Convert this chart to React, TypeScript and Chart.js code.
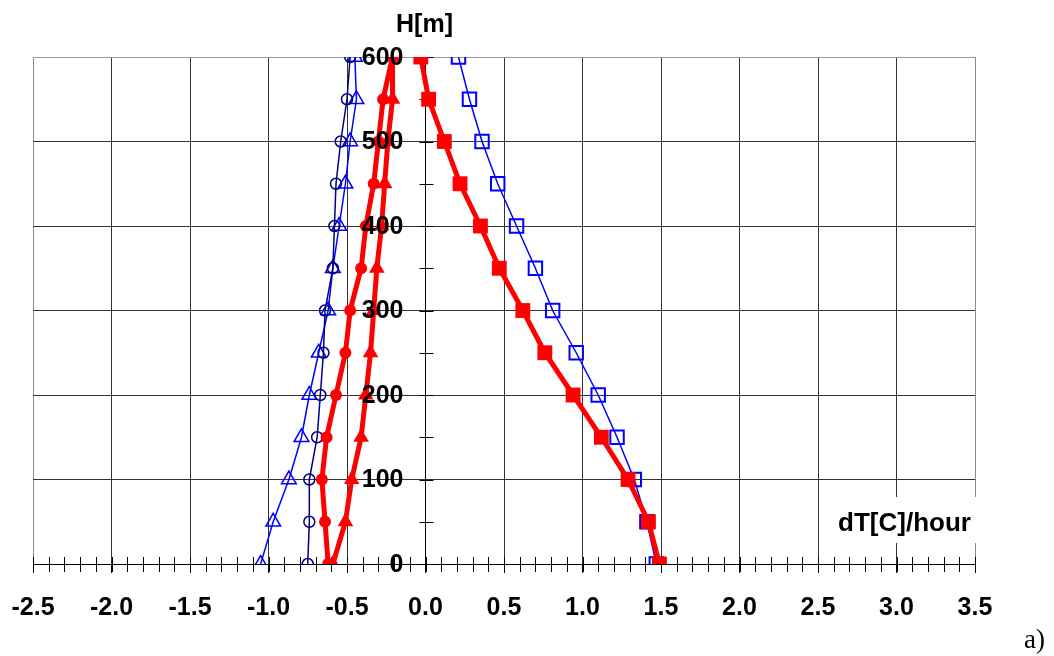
import React, { useEffect, useRef } from 'react';
import { Chart, registerables } from 'chart.js';

Chart.register(...registerables);

// Heights (m) of the profile points
const heights = [0, 50, 100, 150, 200, 250, 300, 350, 400, 450, 500, 550, 600];

// dT [C]/hour values for each series, listed bottom (0 m) to top (600 m)
const navyCircles = [-0.75, -0.74, -0.74, -0.69, -0.67, -0.65, -0.64, -0.59, -0.58, -0.57, -0.54, -0.5, -0.48];
const blueTriangles = [-1.05, -0.97, -0.87, -0.79, -0.74, -0.68, -0.62, -0.59, -0.55, -0.51, -0.48, -0.44, -0.45];
const redCircles = [-0.62, -0.64, -0.66, -0.63, -0.57, -0.51, -0.48, -0.41, -0.38, -0.33, -0.3, -0.27, -0.21];
const redTriangles = [-0.59, -0.51, -0.47, -0.41, -0.38, -0.35, -0.33, -0.31, -0.28, -0.26, -0.24, -0.21, -0.21];
const redSquares = [1.49, 1.42, 1.29, 1.12, 0.94, 0.76, 0.62, 0.47, 0.35, 0.22, 0.12, 0.02, -0.03];
const blueSquares = [1.47, 1.41, 1.33, 1.22, 1.1, 0.96, 0.81, 0.7, 0.58, 0.46, 0.36, 0.28, 0.21];

const xMin = -2.5;
const xMax = 3.5;
const yMin = 0;
const yMax = 600;

const yTitle = 'H[m]';
const xTitle = 'dT[C]/hour';
const panelLabel = 'a)';

const FONT = '"Liberation Sans", Arial, Helvetica, sans-serif';

const pts = (vals: number[]) => heights.map((h, i) => ({ x: vals[i], y: h }));

export default function App() {
  const ref = useRef<HTMLCanvasElement>(null);

  useEffect(() => {
    if (!ref.current) return;

    const decorations = {
      id: 'decorations',
      beforeDatasetsDraw(chart: any) {
        const { ctx, scales } = chart;
        const x = scales.x;
        const y = scales.y;
        const x0 = Math.round(x.getPixelForValue(0)) + 0.5;
        const y0 = Math.round(y.getPixelForValue(0)) + 0.5;
        ctx.save();
        ctx.strokeStyle = '#000';
        ctx.lineWidth = 1;
        ctx.beginPath();
        for (let i = Math.round(xMin * 10); i <= Math.round(xMax * 10); i++) {
          const px = Math.round(x.getPixelForValue(i / 10)) + 0.5;
          ctx.moveTo(px, y0 - 7.5);
          ctx.lineTo(px, y0 + 7.5);
        }
        for (let v = yMin; v <= yMax; v += 50) {
          const py = Math.round(y.getPixelForValue(v)) + 0.5;
          ctx.moveTo(x0 - 7, py);
          ctx.lineTo(x0 + 7, py);
        }
        ctx.stroke();
        ctx.restore();
      },
      afterDatasetsDraw(chart: any) {
        const { ctx, scales } = chart;
        const x = scales.x;
        const y = scales.y;
        const x0 = x.getPixelForValue(0);
        ctx.save();
        ctx.fillStyle = '#000';
        ctx.font = `bold 25px ${FONT}`;
        ctx.textAlign = 'right';
        ctx.textBaseline = 'middle';
        for (const t of y.ticks) {
          ctx.fillText(String(t.value), x0 - 22, y.getPixelForValue(t.value) + 1);
        }
        ctx.restore();
      },
      afterDraw(chart: any) {
        const { ctx, scales } = chart;
        const x = scales.x;
        const y = scales.y;
        ctx.save();
        ctx.fillStyle = '#000';
        ctx.font = `bold 25px ${FONT}`;
        ctx.textAlign = 'center';
        ctx.textBaseline = 'alphabetic';
        ctx.fillText(yTitle, x.getPixelForValue(0) - 1, y.getPixelForValue(yMax) - 25);
        // x-axis title with white background box
        const tx = x.getPixelForValue(3.0) + 8;
        const ty = y.getPixelForValue(0) - 33;
        ctx.fillStyle = '#fff';
        ctx.fillRect(x.getPixelForValue(2.5) + 8, ty - 34, 160, 46);
        ctx.fillStyle = '#000';
        ctx.font = `bold 26px ${FONT}`;
        ctx.fillText(xTitle, tx, ty);
        ctx.restore();
      },
    };

    const chart = new Chart(ref.current, {
      type: 'scatter',
      data: {
        datasets: [
          {
            label: 'red squares',
            data: pts(redSquares),
            showLine: true,
            borderColor: '#ff0000',
            backgroundColor: '#ff0000',
            borderWidth: 5,
            pointStyle: 'rect',
            pointRadius: 10.5,
            pointBorderWidth: 0,
            pointBackgroundColor: '#ff0000',
          },
          {
            label: 'red circles',
            data: pts(redCircles),
            showLine: true,
            borderColor: '#ff0000',
            backgroundColor: '#ff0000',
            borderWidth: 5,
            pointStyle: 'circle',
            pointRadius: 6,
            pointBorderWidth: 0,
            pointBackgroundColor: '#ff0000',
          },
          {
            label: 'red triangles',
            data: pts(redTriangles),
            showLine: true,
            borderColor: '#ff0000',
            backgroundColor: '#ff0000',
            borderWidth: 5,
            pointStyle: 'triangle',
            pointRadius: 9,
            pointBorderWidth: 0,
            pointBackgroundColor: '#ff0000',
          },
          {
            label: 'blue squares',
            data: pts(blueSquares),
            showLine: true,
            borderColor: '#0000ff',
            backgroundColor: 'rgba(0,0,0,0)',
            borderWidth: 1.5,
            pointStyle: 'rect',
            pointRadius: 9.5,
            pointBorderWidth: 2,
            pointBorderColor: '#0000ff',
            pointBackgroundColor: 'rgba(0,0,0,0)',
          },
          {
            label: 'navy circles',
            data: pts(navyCircles),
            showLine: true,
            borderColor: '#000080',
            backgroundColor: 'rgba(0,0,0,0)',
            borderWidth: 1.5,
            pointStyle: 'circle',
            pointRadius: 5.5,
            pointBorderWidth: 1.5,
            pointBorderColor: '#000080',
            pointBackgroundColor: 'rgba(0,0,0,0)',
          },
          {
            label: 'blue triangles',
            data: pts(blueTriangles),
            showLine: true,
            borderColor: '#0000ff',
            backgroundColor: 'rgba(0,0,0,0)',
            borderWidth: 1.5,
            pointStyle: 'triangle',
            pointRadius: 8.5,
            pointBorderWidth: 1.5,
            pointBorderColor: '#0000ff',
            pointBackgroundColor: 'rgba(0,0,0,0)',
          },
        ],
      },
      options: {
        animation: false,
        responsive: false,
        devicePixelRatio: 1,
        events: [],
        layout: { padding: { left: 33, top: 57, right: 79, bottom: 0 } },
        plugins: {
          legend: { display: false },
          tooltip: { enabled: false },
          title: { display: false },
        },
        scales: {
          x: {
            type: 'linear',
            position: 'bottom',
            min: xMin,
            max: xMax,
            afterFit: (s: any) => {
              s.height = 92;
              s.paddingLeft = 0;
              s.paddingRight = 0;
            },
            ticks: {
              stepSize: 0.5,
              autoSkip: false,
              maxRotation: 0,
              padding: 20,
              color: '#000',
              font: { family: FONT, size: 25, weight: 'bold' },
              callback: (v: any) => Number(v).toFixed(1),
            },
            grid: {
              color: (c: any) =>
                c.tick && (c.tick.value === xMin || c.tick.value === xMax) ? '#8a8a8a' : '#333333',
              lineWidth: 1,
              drawTicks: true,
              tickLength: 9,
              tickColor: '#000',
            },
            border: { display: true, color: '#000', width: 1 },
          },
          y: {
            type: 'linear',
            position: { x: 0 } as any,
            min: yMin,
            max: yMax,
            afterFit: (s: any) => {
              s.width = 0;
              s.paddingTop = 0;
              s.paddingBottom = 0;
              s.paddingLeft = 0;
              s.paddingRight = 0;
            },
            ticks: {
              stepSize: 100,
              autoSkip: false,
              display: false,
            },
            grid: {
              color: (c: any) => (c.tick && c.tick.value === yMax ? '#9a9a9a' : '#333333'),
              lineWidth: 1,
              drawTicks: false,
            },
            border: { display: true, color: '#000', width: 1 },
          },
        },
      },
      plugins: [decorations],
    });

    return () => chart.destroy();
  }, []);

  return (
    <div style={{ position: 'absolute', left: 0, top: 0, width: 1054, height: 656, background: '#fff' }}>
      <canvas ref={ref} width={1054} height={656} style={{ display: 'block', width: 1054, height: 656 }} />
      <div
        style={{
          position: 'absolute',
          left: 1024,
          top: 623,
          fontFamily: '"Liberation Serif", "Times New Roman", serif',
          fontSize: 27,
          color: '#000',
          lineHeight: '32px',
        }}
      >
        {panelLabel}
      </div>
    </div>
  );
}
